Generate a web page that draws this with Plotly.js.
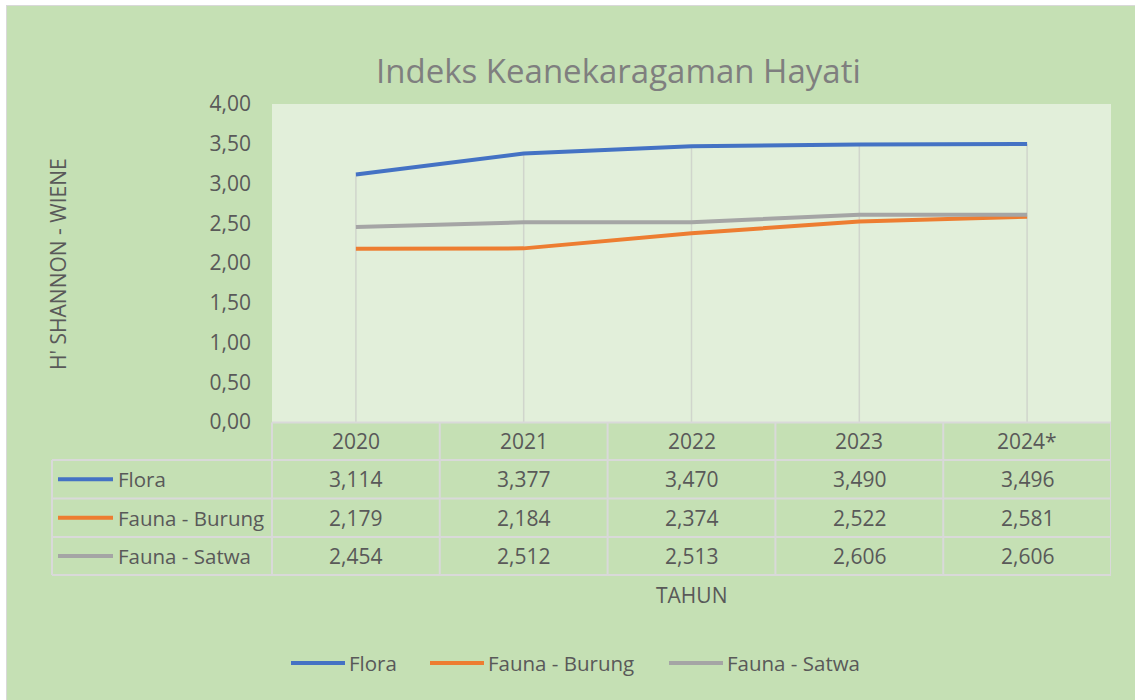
<!DOCTYPE html>
<html>
<head>
<meta charset="utf-8">
<script src="https://cdn.plot.ly/plotly-3.0.1.min.js"></script>
<style>
  html, body { margin: 0; padding: 0; background: #ffffff; }
  #frame { position: absolute; left: 6px; top: 5px; width: 1129px; height: 695px; background: #d9d9d9; }
  #chart { position: absolute; left: 7px; top: 6px; width: 1128px; height: 694px; }
</style>
</head>
<body>
<div id="frame"></div>
<div id="chart"></div>
<script>
// ---- data ----
const years = ['2020', '2021', '2022', '2023', '2024*'];
const seriesNames = ['Flora', 'Fauna - Burung', 'Fauna - Satwa'];
const flora = [3.114, 3.377, 3.470, 3.490, 3.496];
const faunaBurung = [2.179, 2.184, 2.374, 2.522, 2.581];
const faunaSatwa = [2.454, 2.512, 2.513, 2.606, 2.606];
const yTickVals = [0, 0.5, 1, 1.5, 2, 2.5, 3, 3.5, 4];
const chartTitle = 'Indeks Keanekaragaman Hayati';
const yTitle = "H' SHANNON - WIENE";
const xTitle = 'TAHUN';

// ---- styling ----
const seriesValues = [flora, faunaBurung, faunaSatwa];
const colors = ['#4472c4', '#ed7d31', '#a5a5a5'];
const textColor = '#595959';
const gridColor = '#d9d9d9';
const FONT = 'Open Sans, sans-serif';

// page pixel -> paper coordinates (plot area: x 272..1111, y 104..422 in page px)
const PX0 = 272, PX1 = 1111, PY0 = 104, PY1 = 422;
const X = p => (p - PX0) / (PX1 - PX0);
const Y = p => (PY1 - p) / (PY1 - PY0);

const traces = [];
// drop lines from highest series down to axis
const dropX = [], dropY = [];
years.forEach((c, i) => {
  const top = Math.max(...seriesValues.map(s => s[i]));
  dropX.push(c, c, null);
  dropY.push(0, top, null);
});
traces.push({
  x: dropX, y: dropY, type: 'scatter', mode: 'lines',
  line: { color: '#d0d5cc', width: 1.5 }, hoverinfo: 'skip', showlegend: false
});
seriesNames.forEach((n, k) => {
  traces.push({
    x: years, y: seriesValues[k], name: n, type: 'scatter', mode: 'lines',
    line: { color: colors[k], width: 4 }, showlegend: false
  });
});

const shapes = [];
const annotations = [];
const line = (x0, y0, x1, y1) => shapes.push({
  type: 'line', xref: 'paper', yref: 'paper', x0, y0, x1, y1,
  line: { color: gridColor, width: 2 }, layer: 'above'
});

// table geometry (page px)
const headTop = 422.5, rowBounds = [460, 498.5, 537, 575];
const tableLeft = 52;
// horizontal lines
line(X(PX0), Y(headTop), X(PX1), Y(headTop));
rowBounds.forEach(b => line(X(tableLeft), Y(b), X(PX1), Y(b)));
// vertical lines
line(X(tableLeft), Y(rowBounds[0]), X(tableLeft), Y(rowBounds[3]));
line(X(PX0), Y(headTop), X(PX0), Y(rowBounds[3]));
years.forEach((c, i) => {
  shapes.push({
    type: 'line', xref: 'x', yref: 'paper', x0: i + 0.5, x1: i + 0.5,
    y0: Y(headTop), y1: Y(rowBounds[3]), line: { color: gridColor, width: 2 }, layer: 'above'
  });
});

const fmt = v => v.toFixed(3).replace('.', ',');
// header row (x given as category index so numeric-looking names are not misread)
const headCenter = (headTop + rowBounds[0]) / 2;
years.forEach((c, i) => annotations.push({
  xref: 'x', yref: 'paper', x: i, y: Y(headCenter), text: c, showarrow: false,
  xanchor: 'center', yanchor: 'middle', font: { family: FONT, size: 21, color: textColor }
}));
// data rows
seriesNames.forEach((n, k) => {
  const cy = (rowBounds[k] + rowBounds[k + 1]) / 2;
  shapes.push({
    type: 'line', xref: 'paper', yref: 'paper', x0: X(58), x1: X(113), y0: Y(cy), y1: Y(cy),
    line: { color: colors[k], width: 4 }
  });
  annotations.push({
    xref: 'paper', yref: 'paper', x: X(116), y: Y(cy), text: n, showarrow: false,
    xanchor: 'left', yanchor: 'middle', font: { family: FONT, size: 20.5, color: textColor }
  });
  years.forEach((c, i) => annotations.push({
    xref: 'x', yref: 'paper', x: i, y: Y(cy), text: fmt(seriesValues[k][i]), showarrow: false,
    xanchor: 'center', yanchor: 'middle', font: { family: FONT, size: 21, color: textColor }
  }));
});

// bottom legend
const legY = 663;
const legLineX = [291, 430, 669];
seriesNames.forEach((n, k) => {
  shapes.push({
    type: 'line', xref: 'paper', yref: 'paper', x0: X(legLineX[k]), x1: X(legLineX[k] + 54),
    y0: Y(legY), y1: Y(legY), line: { color: colors[k], width: 4 }
  });
  annotations.push({
    xref: 'paper', yref: 'paper', x: X(legLineX[k] + 56), y: Y(legY), text: n, showarrow: false,
    xanchor: 'left', yanchor: 'middle', font: { family: FONT, size: 20.5, color: textColor }
  });
});

// titles
annotations.push({
  xref: 'paper', yref: 'paper', x: X(618.5), y: Y(71), text: chartTitle, showarrow: false,
  xanchor: 'center', yanchor: 'middle', font: { family: FONT, size: 33, color: '#7f7f7f' }
});
annotations.push({
  xref: 'paper', yref: 'paper', x: X(58), y: Y(264), text: yTitle, showarrow: false, textangle: -90,
  xanchor: 'center', yanchor: 'middle', font: { family: FONT, size: 21, color: textColor }
});
annotations.push({
  xref: 'paper', yref: 'paper', x: X(691.5), y: Y(595), text: xTitle, showarrow: false,
  xanchor: 'center', yanchor: 'middle', font: { family: FONT, size: 21, color: textColor }
});

const layout = {
  width: 1128, height: 694,
  margin: { l: PX0 - 7, r: 1135 - PX1, t: PY0 - 6, b: 700 - PY1 },
  paper_bgcolor: '#c5e0b4', plot_bgcolor: '#e2efda',
  separators: ',.',
  font: { family: FONT, color: textColor },
  showlegend: false,
  xaxis: {
    type: 'category', categoryarray: years, range: [-0.5, years.length - 0.5],
    showticklabels: false, showgrid: false, zeroline: false, showline: false, ticks: ''
  },
  yaxis: {
    range: [0, 4], tickvals: yTickVals, tickformat: '.2f', showgrid: false, zeroline: false,
    showline: false, ticks: '', ticklabelstandoff: 20,
    tickfont: { family: FONT, size: 21, color: textColor }
  },
  shapes, annotations
};

Plotly.newPlot('chart', traces, layout, { displayModeBar: false, staticPlot: true });
</script>
</body>
</html>
